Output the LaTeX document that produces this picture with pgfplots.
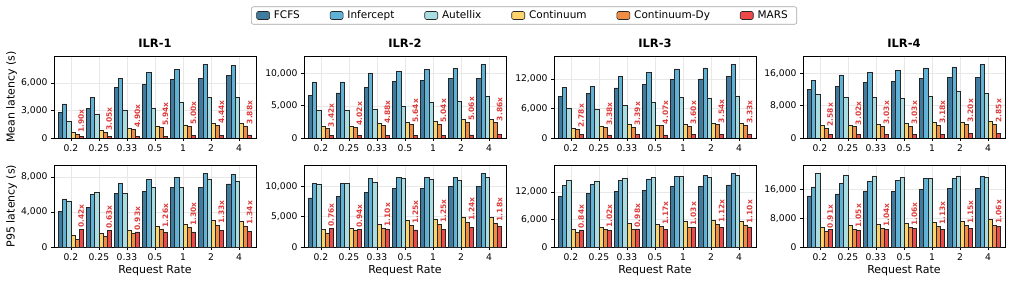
\documentclass[border=0pt]{standalone}
\usepackage{pgfplots}
\pgfplotsset{compat=1.18}
\usepackage{pgfplotstable}
\usepackage{fontspec}
\setmainfont{DejaVu Sans}

\definecolor{cfcfs}{HTML}{3E7B9E}
\definecolor{cinf}{HTML}{5FB2D6}
\definecolor{caut}{HTML}{A9DDE2}
\definecolor{ccont}{HTML}{FDD36C}
\definecolor{cdy}{HTML}{F08D44}
\definecolor{cmars}{HTML}{EF4848}
\definecolor{clabel}{HTML}{DD3B3B}

% Mean latency (s); sp = speedup of MARS over the best baseline
\pgfplotstableread{
x fcfs inf aut cont dy mars sp
0 2820 3730 1790 585 366 193 1.90x
1 3220 4430 2630 805 585 192 3.05x
2 5520 6550 3070 1060 950 194 4.90x
3 5890 7130 3290 1320 1170 197 5.94x
4 6400 7500 3880 1430 1245 249 5.00x
5 6480 8010 4430 1610 1390 313 4.44x
6 6840 7900 4430 1610 1320 340 3.88x
}\meanA
\pgfplotstableread{
x fcfs inf aut cont dy mars sp
0 6650 8710 4230 1750 1440 421 3.42x
1 7010 8710 4280 1800 1700 423 4.02x
2 7890 10000 4380 2270 1960 402 4.88x
3 8760 10310 4950 2470 2170 385 5.64x
4 8920 10670 5570 2630 2170 431 5.04x
5 9230 10830 5670 2840 2470 488 5.06x
6 9230 11390 6500 2840 2370 614 3.86x
}\meanB
\pgfplotstableread{
x fcfs inf aut cont dy mars sp
0 8430 10320 6000 2020 1820 655 2.78x
1 9100 10450 5730 2360 2160 639 3.38x
2 10180 12470 6540 2700 2230 658 3.39x
3 10920 13280 7210 2560 2490 612 4.07x
4 11930 14020 8230 2830 2430 675 3.60x
5 12000 14230 8020 3030 2700 763 3.54x
6 12470 14900 8560 2970 2560 769 3.33x
}\meanC
\pgfplotstableread{
x fcfs inf aut cont dy mars sp
0 12060 14200 10830 3120 2460 953 2.58x
1 12800 15590 10010 3200 2790 924 3.02x
2 13790 16250 10010 3450 2950 974 3.03x
3 14030 16660 9850 3690 2950 974 3.03x
4 14770 17310 10340 3770 3120 981 3.18x
5 15020 17560 11570 3940 3450 1078 3.20x
6 15020 18130 11080 4100 3450 1211 2.85x
}\meanD

% P95 latency (s)
\pgfplotstableread{
x fcfs inf aut cont dy mars sp
0 4080 5490 5260 1330 840 2000 0.42x
1 4570 5980 6210 1600 1180 1873 0.63x
2 6170 7240 6100 1870 1600 1720 0.93x
3 6360 7770 6820 2320 2060 1635 1.26x
4 6780 7920 6780 2590 2250 1731 1.30x
5 6780 8380 7700 3010 2480 1865 1.33x
6 7200 8270 7470 2930 2400 1791 1.34x
}\pA
\pgfplotstableread{
x fcfs inf aut cont dy mars sp
0 8080 10550 10390 2860 2310 3039 0.76x
1 8300 10440 10440 3080 2750 2926 0.94x
2 9010 11260 10600 3740 3130 2845 1.10x
3 9620 11430 11260 4340 3520 2816 1.25x
4 9620 11540 11100 4510 3680 2944 1.25x
5 9950 11480 10990 4840 4070 3282 1.24x
6 9950 12090 11540 4840 3960 3356 1.18x
}\pB
\pgfplotstableread{
x fcfs inf aut cont dy mars sp
0 10980 13460 14470 3860 3130 3726 0.84x
1 11710 13600 14400 4290 3780 3706 1.02x
2 12150 14550 14980 5090 3860 3939 0.98x
3 12360 14840 15270 4870 4440 3795 1.17x
4 13240 15420 15350 5600 4360 4233 1.03x
5 13160 15560 15270 5820 4870 4348 1.12x
6 13530 16000 15710 5530 4800 4364 1.10x
}\pC
\pgfplotstableread{
x fcfs inf aut cont dy mars sp
0 14150 16650 20350 5360 4350 4780 0.91x
1 14710 17570 19980 5920 4990 4752 1.05x
2 15540 18310 19700 6290 5090 4894 1.04x
3 15450 18410 19420 6660 5360 5057 1.06x
4 16090 19050 18960 6750 5640 4991 1.13x
5 16190 18960 19700 7210 5920 5148 1.15x
6 16190 19510 19240 7580 6100 5755 1.06x
}\pD

\pgfplotsset{
  panel/.style={
    scale only axis, width=202pt, height=82pt,
    xmin=-0.6, xmax=6.6, ymin=0,
    xtick={0,...,6}, xticklabels={0.2,0.25,0.33,0.5,1,2,4},
    xtick pos=bottom, ytick pos=left,
    tick align=outside, major tick length=3pt,
    tick style={black, line width=0.6pt},
    axis line style={line width=0.9pt},
    grid=major, grid style={gray!18, line width=0.5pt},
    ticklabel style={font=\fontsize{9.2}{10}\selectfont},
    scaled y ticks=false,
    yticklabel style={/pgf/number format/.cd, fixed, 1000 sep={,}},
    /pgf/number format/assume math mode=true,
    title style={font=\bfseries\fontsize{11.5}{13}\selectfont, at={(axis description cs:0.5,1)}, anchor=south, inner sep=2.5pt},
    label style={font=\fontsize{11}{12}\selectfont},
    y label style={at={(axis description cs:-0.21,0.5)}, anchor=center},
    x label style={at={(axis description cs:0.5,-0.285)}, anchor=center},
    legend image code/.code={\draw[#1] (0pt,-4pt) rectangle (13pt,4pt);},
  },
  b/.style={ybar, bar width=0.148, draw=black!85, line width=0.6pt, fill=#1},
}

\newcommand\bars[1]{%
  \addplot[b=cfcfs, bar shift=-0.37] table[x=x, y=fcfs]{#1};
  \addplot[b=cinf, bar shift=-0.222] table[x=x, y=inf]{#1};
  \addplot[b=caut, bar shift=-0.074] table[x=x, y=aut]{#1};
  \addplot[b=ccont, bar shift=0.074] table[x=x, y=cont]{#1};
  \addplot[b=cdy, bar shift=0.222] table[x=x, y=dy]{#1};
  \addplot[b=cmars, bar shift=0.37] table[x=x, y=mars]{#1};
  \addplot[draw=none, mark=none, forget plot, nodes near coords,
    point meta=explicit symbolic,
    nodes near coords style={rotate=90, anchor=west, inner sep=1.5pt,
      text=clabel, font=\bfseries\fontsize{7.5}{8}\selectfont}]
    table[x expr=\thisrow{x}+0.37, y expr={max(\thisrow{dy},\thisrow{mars})}, meta=sp]{#1};
}

\begin{document}
\begin{tikzpicture}
\useasboundingbox (0,0) rectangle (1012pt,284pt);

% top row: mean latency
\begin{axis}[panel, at={(54pt,146pt)}, anchor=south west,
  title={ILR-1}, ylabel={Mean latency (s)}, ymax=8960, ytick={0,3000,6000},
  legend columns=6,
  legend style={at={(axis description cs:2.327,1.494)}, anchor=center,
    draw=gray!70, rounded corners=2pt, line width=0.6pt,
    font=\fontsize{10.5}{12}\selectfont, inner xsep=5pt, inner ysep=2pt,
    nodes={inner xsep=4pt},
    /tikz/every even column/.append style={column sep=26pt}}]
\bars{\meanA}
\legend{FCFS, Infercept, Autellix, Continuum, Continuum-Dy, MARS}
\end{axis}
\begin{axis}[panel, at={(304pt,146pt)}, anchor=south west,
  title={ILR-2}, ymax=12730, ytick={0,5000,10000}]
\bars{\meanB}
\end{axis}
\begin{axis}[panel, at={(554pt,146pt)}, anchor=south west,
  title={ILR-3}, ymax=16650, ytick={0,6000,12000}]
\bars{\meanC}
\end{axis}
\begin{axis}[panel, at={(803pt,146pt)}, anchor=south west,
  title={ILR-4}, ymax=20270, ytick={0,8000,16000}]
\bars{\meanD}
\end{axis}

% bottom row: P95 latency
\begin{axis}[panel, at={(54pt,37pt)}, anchor=south west,
  ylabel={P95 latency (s)}, xlabel={Request Rate}, ymax=9370, ytick={0,4000,8000}]
\bars{\pA}
\end{axis}
\begin{axis}[panel, at={(304pt,37pt)}, anchor=south west,
  xlabel={Request Rate}, ymax=13520, ytick={0,5000,10000}]
\bars{\pB}
\end{axis}
\begin{axis}[panel, at={(554pt,37pt)}, anchor=south west,
  xlabel={Request Rate}, ymax=17890, ytick={0,6000,12000}]
\bars{\pC}
\end{axis}
\begin{axis}[panel, at={(803pt,37pt)}, anchor=south west,
  xlabel={Request Rate}, ymax=22750, ytick={0,8000,16000}]
\bars{\pD}
\end{axis}
\end{tikzpicture}
\end{document}
